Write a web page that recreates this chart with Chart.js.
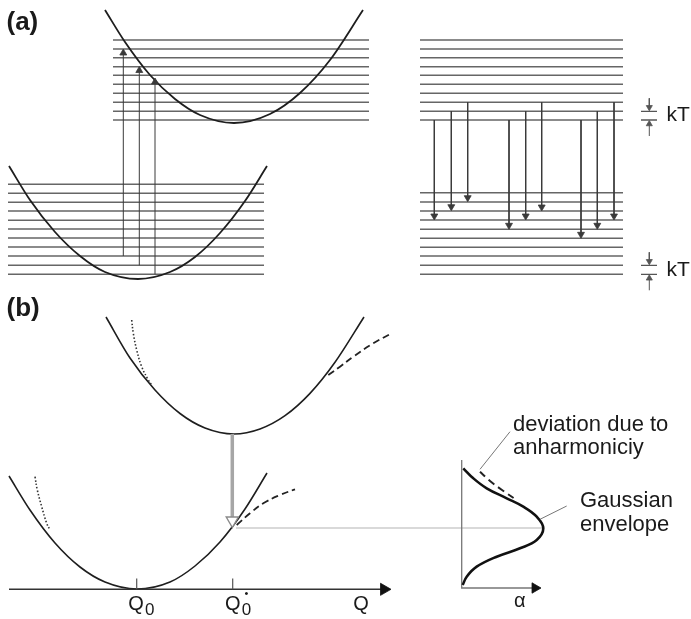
<!DOCTYPE html>
<html>
<head>
<meta charset="utf-8">
<script src="https://cdn.jsdelivr.net/npm/chart.js@4.4.0/dist/chart.umd.min.js"></script>
<style>
  html, body { margin: 0; padding: 0; background: #fff; }
  canvas { display: block; }
</style>
</head>
<body>
<canvas id="diagram" width="691" height="619"></canvas>
<script>
// Figure units: x to the right, y downward (0 = top of figure)

// (a) vibrational levels
const upperLevels = [40, 49, 57.7, 66.7, 75.3, 84.3, 93.3, 102.3, 111.3, 120];
const leftLowerLevels = [184.3, 193.3, 202.3, 211, 220.3, 229, 238, 247, 256, 265.3, 274.3];
const rightLowerLevels = [192.7, 202, 211, 220, 229.3, 238.3, 247.3, 256, 265.3, 274.3];

// (a) potential curves
const aUpperCurveX = [105, 125, 150, 175, 200, 234, 270, 300, 330, 363];
const aUpperCurveY = [10, 42, 75, 99, 115, 123, 114, 93, 60, 10];
const aLowerCurveX = [9, 30, 55, 80, 105, 138, 170, 195, 220, 245, 267];
const aLowerCurveY = [166, 200, 232, 256, 272, 279, 272, 257, 233, 201, 166];

// (a) absorption arrows (up) and emission arrows (down)
const absorptionX = [123.3, 139.3, 155];
const absorptionFrom = [256, 265.3, 274.3];
const absorptionTo = [49, 66.5, 78];
const emissionX = [434.3, 451.3, 467.7, 509, 525.7, 541.7, 581, 597.3, 614];
const emissionFrom = [120, 111.3, 102.3, 120, 111.3, 102.3, 120, 111.3, 102.3];
const emissionTo = [220, 210.7, 201.7, 229.3, 220, 211, 238.3, 229.3, 220];

// kT markers (pairs of levels)
const ktTop = [111.3, 265.3];
const ktBottom = [120, 274.3];

// (b) potential curves
const bUpperCurveX = [106, 130, 155, 180, 205, 234, 260, 285, 310, 335, 364];
const bUpperCurveY = [317, 358, 390, 413.5, 428, 434, 429, 415.7, 393.4, 362.3, 317];
const bLowerCurveX = [9, 30, 55, 80, 105, 137, 170, 195, 220, 245, 267];
const bLowerCurveY = [476, 510, 543, 567, 582, 589, 582, 566, 542, 509, 473];
// anharmonic deviations
const upperDottedX = [131.7, 133.3, 136.7, 141.7, 148.3, 151.7];
const upperDottedY = [320, 333.3, 350, 366.7, 380, 385];
const upperDashedX = [328.3, 340, 353.3, 373.3, 391.7];
const upperDashedY = [375, 366.7, 356.7, 343.3, 333.3];
const lowerDottedX = [35, 37.3, 41.7, 46.7, 50];
const lowerDottedY = [476.7, 490, 506.7, 523.3, 530];
const lowerDashedX = [236.7, 250, 263.3, 280, 295];
const lowerDashedY = [525, 513.3, 503.3, 495, 489.3];

// (b) Q axis ticks
const qTicks = [136.7, 232.7];

// (b) band shape
const gaussX = [463.3, 473.3, 486.7, 506.7, 523.3, 536.7, 543.3, 536.7, 520, 496.7, 476.7, 466.7, 462.7];
const gaussY = [468.3, 478.3, 488.3, 498.3, 506.7, 516.7, 528.3, 540, 548.3, 556.7, 566.7, 576.7, 585];
const deviationX = [480, 490, 502, 515];
const deviationY = [471.7, 481, 490, 499];

const FONT = '"Liberation Sans", Arial, sans-serif';
const labels = [
  { text: '(a)', x: 6.5, y: 29.5, font: 'bold 26px ' + FONT },
  { text: '(b)', x: 6.5, y: 315.5, font: 'bold 26px ' + FONT },
  { text: 'kT', x: 666.5, y: 121, font: '21px ' + FONT },
  { text: 'kT', x: 666.5, y: 275.7, font: '21px ' + FONT },
  { text: 'Q', x: 128.3, y: 609.5, font: '20px ' + FONT },
  { text: '0', x: 145, y: 615, font: '17px ' + FONT },
  { text: 'Q', x: 225, y: 609.5, font: '20px ' + FONT },
  { text: '0', x: 241.7, y: 615, font: '17px ' + FONT },
  { text: '•', x: 244.5, y: 597, font: '11px ' + FONT },
  { text: 'Q', x: 353.3, y: 609.5, font: '20px ' + FONT },
  { text: 'α', x: 514, y: 606.5, font: '20px ' + FONT },
  { text: 'deviation due to', x: 513, y: 430.7, font: '22px ' + FONT },
  { text: 'anharmoniciy', x: 513, y: 454, font: '22px ' + FONT },
  { text: 'Gaussian', x: 580, y: 507.3, font: '22px ' + FONT },
  { text: 'envelope', x: 580, y: 530.5, font: '22px ' + FONT }
];

function zip(xs, ys) {
  return xs.map((x, i) => ({ x: x, y: ys[i] }));
}

// several straight segments in one dataset, separated by gaps
function segments(list) {
  const pts = [];
  list.forEach(s => {
    pts.push({ x: s[0], y: s[1] }, { x: s[2], y: s[3] }, { x: null, y: null });
  });
  return pts;
}

function lineSet(data, color, width, extra) {
  return Object.assign({
    data: data,
    showLine: true,
    borderColor: color,
    borderWidth: width,
    pointRadius: 0,
    fill: false,
    tension: 0,
    clip: false
  }, extra || {});
}

// arrow heads as triangle points; tips given, centres shifted back by r
function headSet(tips, dir, r, color, fill, bw) {
  const rot = { up: 0, down: 180, right: 90 }[dir];
  const data = tips.map(p => ({
    x: dir === 'right' ? p.x - r : p.x,
    y: dir === 'up' ? p.y + r : (dir === 'down' ? p.y - r : p.y)
  }));
  return {
    data: data,
    showLine: false,
    pointStyle: 'triangle',
    pointRotation: rot,
    pointRadius: r,
    pointBackgroundColor: fill || color,
    pointBorderColor: color,
    pointBorderWidth: bw || 0.8,
    clip: false
  };
}

const LEVEL = '#666';
const CURVE = '#1e1e1e';
const ARROW = '#3a3a3a';

// built back to front, reversed at the end (Chart.js paints index 0 last)
const datasets = [];

// (a) levels
datasets.push(lineSet(segments(upperLevels.map(y => [113, y, 369, y])), LEVEL, 1.6));
datasets.push(lineSet(segments(leftLowerLevels.map(y => [8, y, 264, y])), LEVEL, 1.6));
datasets.push(lineSet(segments(upperLevels.map(y => [420, y, 623, y])), LEVEL, 1.6));
datasets.push(lineSet(segments(rightLowerLevels.map(y => [420, y, 623, y])), LEVEL, 1.6));

// (a) curves
datasets.push(lineSet(zip(aUpperCurveX, aUpperCurveY), CURVE, 1.8, { cubicInterpolationMode: 'monotone' }));
datasets.push(lineSet(zip(aLowerCurveX, aLowerCurveY), CURVE, 1.8, { cubicInterpolationMode: 'monotone' }));

// (a) arrows
datasets.push(lineSet(segments(absorptionX.map((x, i) => [x, absorptionFrom[i], x, absorptionTo[i] + 3])), ARROW, 1));
datasets.push(headSet(absorptionX.map((x, i) => ({ x: x, y: absorptionTo[i] })), 'up', 4, ARROW));
datasets.push(lineSet(segments(emissionX.map((x, i) => [x, emissionFrom[i], x, emissionTo[i] - 3])), ARROW, 1));
datasets.push(headSet(emissionX.map((x, i) => ({ x: x, y: emissionTo[i] })), 'down', 4, ARROW));

// kT markers
const ktTicks = [];
const ktShafts = [];
ktTop.forEach((t, i) => {
  const b = ktBottom[i];
  ktTicks.push([641, t, 657, t], [641, b, 657, b]);
  ktShafts.push([649.3, t - 13, 649.3, t - 2], [649.3, b + 16, 649.3, b + 2]);
});
datasets.push(lineSet(segments(ktTicks), '#555', 1.3));
datasets.push(lineSet(segments(ktShafts), '#555', 1));
datasets.push(headSet(ktTop.map(t => ({ x: 649.3, y: t - 0.5 })), 'down', 3.5, '#555'));
datasets.push(headSet(ktBottom.map(b => ({ x: 649.3, y: b + 0.5 })), 'up', 3.5, '#555'));

// (b) horizontal guide to the band maximum
datasets.push(lineSet([{ x: 236, y: 528 }, { x: 543, y: 528 }], '#b4b4b4', 1.2));

// (b) curves
datasets.push(lineSet(zip(bUpperCurveX, bUpperCurveY), CURVE, 1.6, { cubicInterpolationMode: 'monotone' }));
datasets.push(lineSet(zip(bLowerCurveX, bLowerCurveY), CURVE, 1.6, { cubicInterpolationMode: 'monotone' }));
datasets.push(lineSet(zip(upperDottedX, upperDottedY), '#333', 1.6, { tension: 0.4, borderDash: [1.5, 2] }));
datasets.push(lineSet(zip(lowerDottedX, lowerDottedY), '#333', 1.6, { tension: 0.4, borderDash: [1.5, 2] }));
datasets.push(lineSet(zip(upperDashedX, upperDashedY), '#222', 1.8, { tension: 0.4, borderDash: [7, 4] }));
datasets.push(lineSet(zip(lowerDashedX, lowerDashedY), '#222', 1.8, { tension: 0.4, borderDash: [7, 4] }));

// (b) vertical transition arrow (grey, hollow head)
datasets.push(lineSet([{ x: 232.3, y: 434 }, { x: 232.3, y: 517 }], '#a6a6a6', 3.5));
datasets.push(headSet([{ x: 232.3, y: 527.5 }], 'down', 7, '#8a8a8a', '#ffffff', 1.4));

// (b) Q axis
datasets.push(lineSet([{ x: 9, y: 589.3 }, { x: 382, y: 589.3 }], '#333', 1.5));
datasets.push(lineSet(segments(qTicks.map(q => [q, 578.5, q, 589.3])), '#555', 1.2));
datasets.push(headSet([{ x: 391, y: 589.3 }], 'right', 7, '#111'));

// (b) band axes
datasets.push(lineSet([{ x: 461.7, y: 460 }, { x: 461.7, y: 588 }, { x: 533, y: 588 }], '#777', 1.3));
datasets.push(headSet([{ x: 541, y: 588 }], 'right', 6, '#111'));

// (b) band shape
datasets.push(lineSet(zip(gaussX, gaussY), '#111', 2.6, { tension: 0.4 }));
datasets.push(lineSet(zip(deviationX, deviationY), '#222', 2, { tension: 0.4, borderDash: [7, 5] }));

// (b) pointers to labels
datasets.push(lineSet(segments([[510, 431.7, 480, 469.3], [566.7, 506, 540, 519.3]]), '#777', 1));

datasets.reverse();

const labelPlugin = {
  id: 'figureLabels',
  afterDatasetsDraw(chart) {
    const ctx = chart.ctx;
    const xs = chart.scales.x;
    const ys = chart.scales.y;
    ctx.save();
    ctx.fillStyle = '#1a1a1a';
    ctx.textAlign = 'left';
    ctx.textBaseline = 'alphabetic';
    labels.forEach(l => {
      ctx.font = l.font;
      ctx.fillText(l.text, xs.getPixelForValue(l.x), ys.getPixelForValue(l.y));
    });
    ctx.restore();
  }
};

new Chart(document.getElementById('diagram'), {
  type: 'scatter',
  data: { datasets: datasets },
  options: {
    responsive: false,
    animation: false,
    events: [],
    // no extra room for point radius: chart area must fill the canvas
    layout: { padding: 0, autoPadding: false },
    plugins: {
      legend: { display: false },
      tooltip: { enabled: false }
    },
    scales: {
      x: { type: 'linear', min: 0, max: 691, display: false },
      y: { type: 'linear', min: 0, max: 619, reverse: true, display: false }
    }
  },
  plugins: [labelPlugin]
});
</script>
</body>
</html>
